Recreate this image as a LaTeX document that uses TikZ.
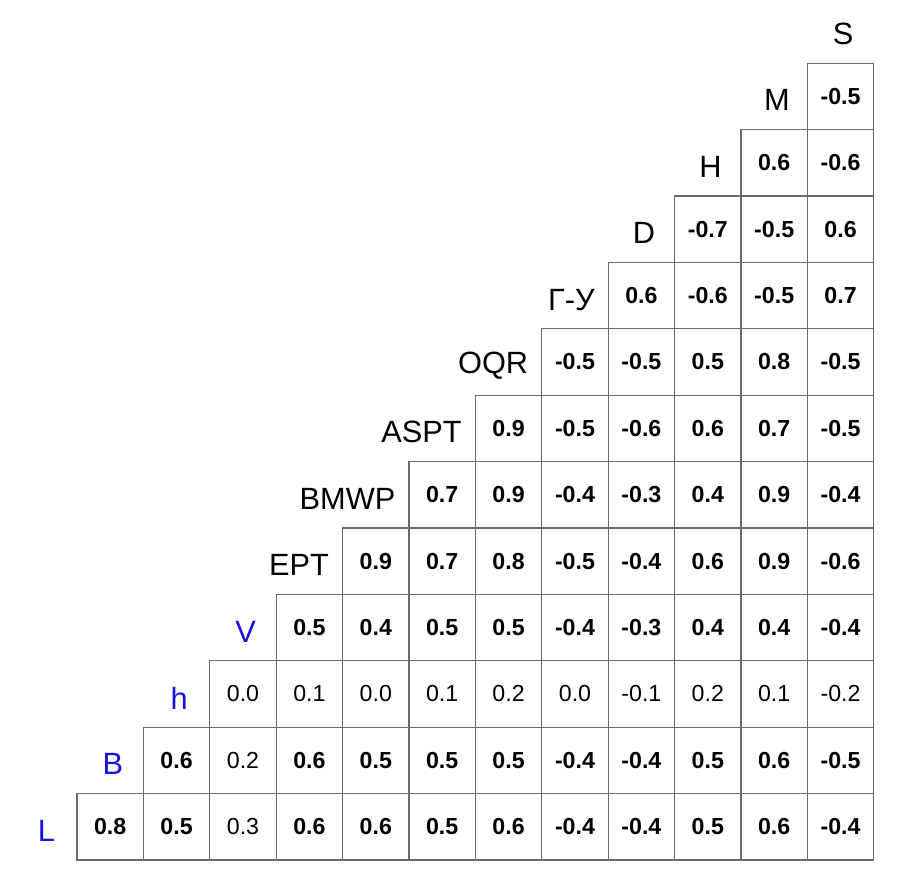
\documentclass[tikz,border=0pt]{standalone}
\usepackage{fontspec}
\setmainfont{Liberation Sans}
\definecolor{gridgray}{RGB}{105,105,105}
\definecolor{labblue}{RGB}{20,20,225}
\newcommand\plainval[1]{{\mdseries#1}}

\begin{document}
\begin{tikzpicture}[x=1.328cm,y=1.328cm,
    cell/.style={draw=gridgray,line width=0.7pt,minimum size=1.328cm,inner sep=0pt,font=\fontsize{13.2}{15}\selectfont\bfseries},
    lab/.style={inner sep=0pt,font=\fontsize{17.5}{20}\selectfont},
    blue lab/.style={lab,text=labblue},
    wide lab/.style={lab,anchor=east}]
  \useasboundingbox (-1.16,-0.316) rectangle (12.395,12.952);
  \foreach \r/\vals in {
      0/{0.8,0.5,\plainval{0.3},0.6,0.6,0.5,0.6,-0.4,-0.4,0.5,0.6,-0.4},
      1/{0.6,\plainval{0.2},0.6,0.5,0.5,0.5,-0.4,-0.4,0.5,0.6,-0.5},
      2/{\plainval{0.0},\plainval{0.1},\plainval{0.0},\plainval{0.1},\plainval{0.2},\plainval{0.0},\plainval{-0.1},\plainval{0.2},\plainval{0.1},\plainval{-0.2}},
      3/{0.5,0.4,0.5,0.5,-0.4,-0.3,0.4,0.4,-0.4},
      4/{0.9,0.7,0.8,-0.5,-0.4,0.6,0.9,-0.6},
      5/{0.7,0.9,-0.4,-0.3,0.4,0.9,-0.4},
      6/{0.9,-0.5,-0.6,0.6,0.7,-0.5},
      7/{-0.5,-0.5,0.5,0.8,-0.5},
      8/{0.6,-0.6,-0.5,0.7},
      9/{-0.7,-0.5,0.6},
      10/{0.6,-0.6},
      11/{-0.5}}
    \foreach \v [count=\c from \r] in \vals
      \node[cell] (c-\r-\c) at (\c+0.5,\r+0.5) {\v};
  \foreach \r/\t in {0/L,1/B,2/h,3/V}
    \node[blue lab] (lab-\r) at (\r-0.46,\r+0.44) {\t};
  \foreach \r/\t in {9/D,10/H,11/M,12/S}
    \node[lab] (lab-\r) at (\r-0.46,\r+0.44) {\t};
  \foreach \r/\t in {4/EPT,5/BMWP,6/ASPT,7/OQR,8/Г-У}
    \node[wide lab] (lab-\r) at (\r-0.2,\r+0.44) {\t};
\end{tikzpicture}
\end{document}
